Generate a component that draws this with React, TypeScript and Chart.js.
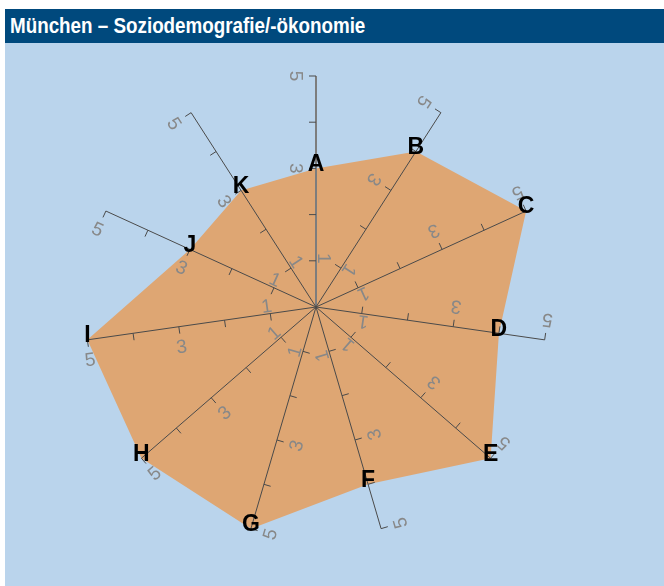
import React, { useEffect, useRef } from 'react';
import { Chart, registerables } from 'chart.js';

Chart.register(...registerables);

const title = 'München – Soziodemografie/-ökonomie';
const categories = ['A', 'B', 'C', 'D', 'E', 'F', 'G', 'H', 'I', 'J', 'K'];
const values = [3, 4, 5, 4, 5, 4, 5, 5, 5, 3, 3];
const tickMarkValues = [1, 2, 3, 4, 5];
const tickLabelValues = [1, 3, 5];
const scaleMin = 0;
const scaleMax = 5;

export default function App() {
  const ref = useRef<HTMLCanvasElement>(null);

  useEffect(() => {
    if (!ref.current) return;
    const axisPlugin = {
      id: 'customAxes',
      afterDatasetsDraw(chart: any) {
        const ctx = chart.ctx as CanvasRenderingContext2D;
        const scale = chart.scales.r;
        ctx.save();
        categories.forEach((cat, i) => {
          const p0 = scale.getPointPositionForValue(i, scaleMin);
          const p5 = scale.getPointPositionForValue(i, scaleMax);
          const dx = p5.x - p0.x;
          const dy = p5.y - p0.y;
          const len = Math.hypot(dx, dy) || 1;
          const dir = { x: dx / len, y: dy / len };
          const below = { x: dir.y, y: -dir.x };
          // axis line
          ctx.beginPath();
          ctx.strokeStyle = i === 0 ? '#7d7d7d' : '#4a4a4a';
          ctx.lineWidth = i === 0 ? 2 : 1;
          ctx.moveTo(p0.x, p0.y);
          ctx.lineTo(p5.x, p5.y);
          ctx.stroke();
          // tick marks
          ctx.strokeStyle = '#4a4a4a';
          ctx.lineWidth = 1;
          tickMarkValues.forEach((v) => {
            const p = scale.getPointPositionForValue(i, v);
            ctx.beginPath();
            ctx.moveTo(p.x, p.y);
            ctx.lineTo(p.x + below.x * 7, p.y + below.y * 7);
            ctx.stroke();
          });
          // tick labels
          const rot = Math.atan2(-dir.y, -dir.x);
          ctx.fillStyle = '#888888';
          ctx.font = '19px "Liberation Sans", Arial, sans-serif';
          ctx.textAlign = 'center';
          ctx.textBaseline = 'middle';
          tickLabelValues.forEach((v) => {
            const p = scale.getPointPositionForValue(i, v);
            let x: number, y: number;
            if (v === 1) {
              x = p.x + dir.x * 2.5 - below.x * 7;
              y = p.y + dir.y * 2.5 - below.y * 7;
            } else {
              x = p.x + below.x * 21;
              y = p.y + below.y * 21;
            }
            ctx.save();
            ctx.translate(x, y);
            ctx.rotate(rot);
            ctx.fillText(String(v), 0, 0);
            ctx.restore();
          });
        });
        // category letters at data points
        ctx.fillStyle = '#000000';
        ctx.font = 'bold 23px "Liberation Sans", Arial, sans-serif';
        ctx.textAlign = 'center';
        ctx.textBaseline = 'middle';
        categories.forEach((cat, i) => {
          const p = scale.getPointPositionForValue(i, values[i]);
          ctx.fillText(cat, p.x, p.y - 4);
        });
        ctx.restore();
      },
    };

    const chart = new Chart(ref.current, {
      type: 'radar',
      data: {
        labels: categories,
        datasets: [
          {
            data: values,
            backgroundColor: '#DEA673',
            borderWidth: 0,
            borderColor: 'rgba(0,0,0,0)',
            pointRadius: 0,
            pointHoverRadius: 0,
            fill: true,
            tension: 0,
          },
        ],
      },
      options: {
        animation: false,
        responsive: false,
        maintainAspectRatio: false,
        layout: { padding: { left: 80, right: 117, top: 33, bottom: 48 } },
        plugins: { legend: { display: false }, tooltip: { enabled: false } },
        scales: {
          r: {
            min: scaleMin,
            max: scaleMax,
            ticks: { display: false },
            grid: { display: false },
            angleLines: { display: false },
            pointLabels: { display: false },
          },
        },
      } as any,
      plugins: [axisPlugin],
    });
    return () => chart.destroy();
  }, []);

  return (
    <div
      style={{
        position: 'absolute',
        left: 5,
        top: 9,
        width: 659,
        height: 577,
        background: '#BAD4EC',
      }}
    >
      <div
        style={{
          height: 34,
          background: '#00497D',
          color: '#ffffff',
          font: 'bold 22px "Liberation Sans", Arial, sans-serif',
          lineHeight: '34px',
          paddingLeft: 5,
          whiteSpace: 'nowrap',
          overflow: 'hidden',
        }}
      >
        <span
          style={{
            display: 'inline-block',
            transform: 'scaleX(0.855)',
            transformOrigin: 'left center',
          }}
        >
          {title}
        </span>
      </div>
      <canvas ref={ref} width={659} height={543} style={{ display: 'block', width: 659, height: 543 }} />
    </div>
  );
}
